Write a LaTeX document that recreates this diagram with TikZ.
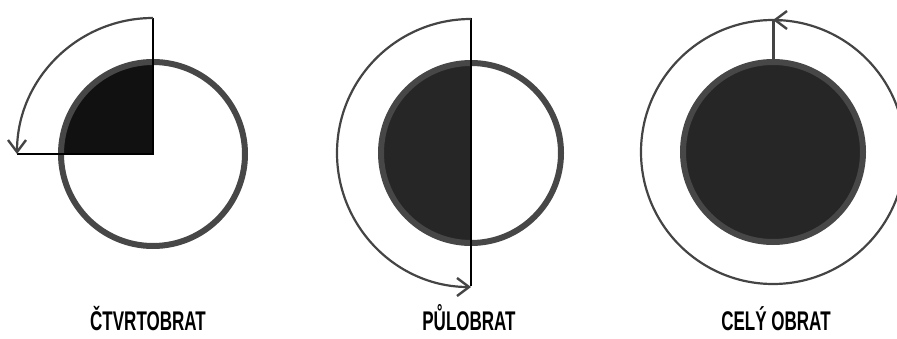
\documentclass[tikz,border=0pt]{standalone}
\usepackage{fontspec}
\newfontfamily\turnfont[FakeStretch=0.63]{Liberation Sans}
\usetikzlibrary{arrows.meta}

\definecolor{ringgray}{HTML}{474747}
\definecolor{arcgray}{HTML}{444444}
\definecolor{quarterfill}{HTML}{111111}
\definecolor{halffill}{HTML}{262626}

\tikzset{
  ring/.style={draw=ringgray,line width=6pt},
  turnarc/.style={draw=arcgray,line width=2.2pt},
  turntip/.style={-{Straight Barb[length=12pt,width=18pt,line width=2.4pt]}},
  axisline/.style={draw=black,line width=2.6pt},
  turnlabel/.style={anchor=base,font=\turnfont\bfseries\fontsize{27}{28}\selectfont}
}

\begin{document}
\begin{tikzpicture}[x=1pt,y=1pt]

\useasboundingbox (0,0) rectangle (897,338);

% Centres and radii
\def\ra{92}   % ring radius
\def\rb{134}  % arc radius

% --- Quarter turn ---
\coordinate (qc) at (153,184);
\fill[quarterfill] (qc) -- ++(90:\ra) arc (90:180:\ra) -- cycle;
\draw[ring] (qc) circle (\ra);
\draw[axisline] (153,320) -- (qc) -- (17,184);
\draw[turnarc,turntip] (153,320) arc (90:180:136);

% --- Half turn ---
\coordinate (hc) at (471,185);
\fill[halffill] (hc) ++(90:90) arc (90:270:90) -- cycle;
\draw[ring] (hc) circle (90);
\draw[axisline] (471,320) -- (471,52);
\draw[turnarc,turntip] (471,319) arc (90:270:\rb);

% --- Full turn ---
\coordinate (fc) at (773,186);
\draw[ring,fill=halffill] (fc) circle (90);
\draw[turnarc] (fc) circle (132);
\draw[arcgray,line width=3pt] (773,279) -- (773,318);
\draw[turnarc,turntip] (fc) ++(86:132) arc (86:90:132);

% Labels
\node[turnlabel] (lq) at (148,8) {ČTVRTOBRAT};
\node[turnlabel] (lh) at (469,8) {PŮLOBRAT};
\node[turnlabel] (lf) at (776,8) {CELÝ OBRAT};

\end{tikzpicture}
\end{document}
